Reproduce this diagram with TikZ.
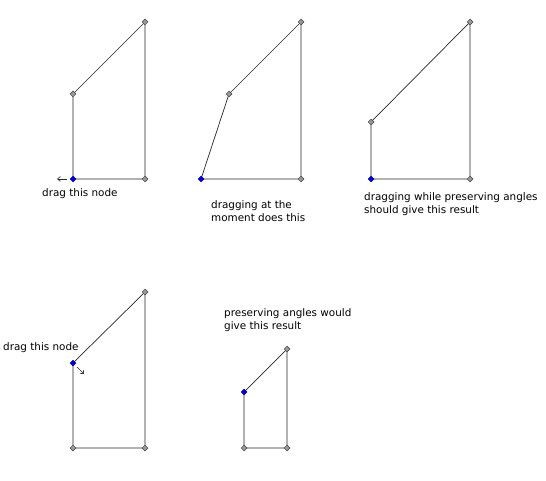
\documentclass[tikz,border=0pt]{standalone}
\usepackage{fontspec}
\setmainfont{DejaVu Sans}
\usetikzlibrary{shapes.geometric,arrows.meta}
\tikzset{
  pt/.style={diamond,draw=black!75,fill=black!40,line width=0.5pt,inner sep=0pt,minimum size=6pt},
  bpt/.style={diamond,draw=blue!60!black,fill=blue!85!black,line width=0.5pt,inner sep=0pt,minimum size=6pt},
  edge/.style={draw=black!85,line width=0.7pt},
  lbl/.style={font=\fontsize{10.4}{13}\selectfont,align=left,inner sep=0pt,anchor=west},
  dragarrow/.style={draw=black!85,line width=0.6pt,-{Straight Barb[length=3pt,width=5pt]}}
}
\begin{document}
\begin{tikzpicture}[x=1pt,y=-1pt]
\useasboundingbox (0,0) rectangle (546,481);
% shape 1
\coordinate (a1) at (145,22);
\coordinate (b1) at (73,94);
\coordinate (c1) at (73,179);
\coordinate (d1) at (145,179);
\draw[edge] (a1) -- (b1) -- (c1) -- (d1) -- cycle;
\node[pt] (na1) at (a1) {};
\node[pt] (nb1) at (b1) {};
\node[bpt] (nc1) at (c1) {};
\node[pt] (nd1) at (d1) {};
\coordinate (ar1s) at (67,179);
\coordinate (ar1e) at (57,179);
\draw[dragarrow] (ar1s) -- (ar1e);
\node[lbl] (t1) at (42,193.5) {drag this node};
% shape 2
\coordinate (a2) at (301,22);
\coordinate (b2) at (229,94);
\coordinate (c2) at (201,179);
\coordinate (d2) at (301,179);
\draw[edge] (a2) -- (b2) -- (c2) -- (d2) -- cycle;
\node[pt] (na2) at (a2) {};
\node[pt] (nb2) at (b2) {};
\node[bpt] (nc2) at (c2) {};
\node[pt] (nd2) at (d2) {};
\node[lbl] (t2) at (211,211) {dragging at the\\moment does this};
% shape 3
\coordinate (a3) at (470,22);
\coordinate (b3) at (371,122);
\coordinate (c3) at (371,179);
\coordinate (d3) at (470,179);
\draw[edge] (a3) -- (b3) -- (c3) -- (d3) -- cycle;
\node[pt] (na3) at (a3) {};
\node[pt] (nb3) at (b3) {};
\node[bpt] (nc3) at (c3) {};
\node[pt] (nd3) at (d3) {};
\node[lbl] (t3) at (364,204) {dragging while preserving angles\\should give this result};
% shape 4
\coordinate (a4) at (145,292);
\coordinate (b4) at (73,363);
\coordinate (c4) at (73,448);
\coordinate (d4) at (145,448);
\draw[edge] (a4) -- (b4) -- (c4) -- (d4) -- cycle;
\node[pt] (na4) at (a4) {};
\node[bpt] (nb4) at (b4) {};
\node[pt] (nc4) at (c4) {};
\node[pt] (nd4) at (d4) {};
\coordinate (ar4s) at (77,367);
\coordinate (ar4e) at (84,374);
\draw[dragarrow] (ar4s) -- (ar4e);
\node[lbl] (t4) at (3,347.5) {drag this node};
% shape 5
\coordinate (a5) at (287,349);
\coordinate (b5) at (244,392);
\coordinate (c5) at (244,448);
\coordinate (d5) at (287,448);
\draw[edge] (a5) -- (b5) -- (c5) -- (d5) -- cycle;
\node[pt] (na5) at (a5) {};
\node[bpt] (nb5) at (b5) {};
\node[pt] (nc5) at (c5) {};
\node[pt] (nd5) at (d5) {};
\node[lbl] (t5) at (224,320) {preserving angles would\\give this result};
\end{tikzpicture}
\end{document}
